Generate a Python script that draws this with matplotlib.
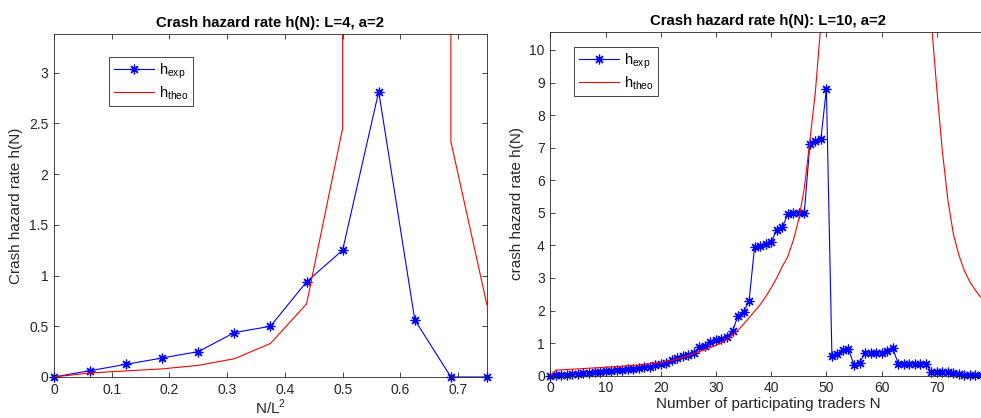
import numpy as np
import matplotlib
matplotlib.use("Agg")
import matplotlib.pyplot as plt

plt.rcParams['font.family'] = ['Liberation Sans', 'DejaVu Sans']
plt.rcParams['mathtext.fontset'] = 'custom'
plt.rcParams['mathtext.rm'] = 'Liberation Sans'

# ---- left panel: L=4, a=2 (x = N/L^2)
x_left = [0, 0.0625, 0.125, 0.1875, 0.25, 0.3125, 0.375, 0.4375, 0.5,
          0.5625, 0.625, 0.6875, 0.75]
h_exp_left = [0, 0.0625, 0.125, 0.1875, 0.25, 0.4375, 0.5, 0.9375, 1.25,
              2.8125, 0.5625, 0, 0]
h_theo_left = [0, 0.04, 0.06, 0.08, 0.115, 0.18, 0.33, 0.72, 2.45,
               1e6, 1e6, 2.32, 0.71]

# ---- right panel: L=10, a=2 (x = number of traders N)
n_right = list(range(0, 79))
h_exp_right = [0.0, 0.02, 0.01, 0.03, 0.04, 0.06, 0.07, 0.08, 0.10, 0.12,
               0.13, 0.14, 0.16, 0.19, 0.21, 0.22, 0.23, 0.26, 0.28, 0.32,
               0.36, 0.40, 0.48, 0.53, 0.60, 0.65, 0.70, 0.87, 0.91, 1.04,
               1.10, 1.13, 1.20, 1.38, 1.83, 1.95, 2.30, 3.96, 3.99, 4.03,
               4.10, 4.47, 4.55, 4.96, 4.99, 5.00, 5.00, 7.10, 7.20, 7.26,
               8.80, 0.62, 0.67, 0.79, 0.81, 0.33, 0.40, 0.69, 0.69, 0.69,
               0.69, 0.76, 0.86, 0.37, 0.37, 0.37, 0.37, 0.37, 0.37, 0.12,
               0.10, 0.10, 0.10, 0.09, 0.06, 0.03, 0.03, 0.03, 0.03]
h_theo_right = [0.0, 0.17, 0.18, 0.19, 0.20, 0.21, 0.22, 0.23, 0.24, 0.25,
                0.26, 0.27, 0.28, 0.29, 0.31, 0.32, 0.33, 0.35, 0.37, 0.39,
                0.41, 0.44, 0.47, 0.51, 0.56, 0.62, 0.68, 0.74, 0.80, 0.86,
                0.93, 1.01, 1.12, 1.25, 1.40, 1.58, 1.78, 1.98, 2.18, 2.42,
                2.70, 3.00, 3.35, 3.65, 4.15, 4.80, 5.75, 7.20, 8.70, 10.80,
                13.6, 17.5, 23.0, 32.0, 48.0, 80.0, 160.0, 400.0, 2000.0, 2000.0,
                400.0, 160.0, 80.0, 48.0, 32.0, 23.0, 18.0, 15.5, 13.5, 10.9,
                8.8, 6.9, 5.4, 4.35, 3.7, 3.22, 2.88, 2.62, 2.4]

axc = (0.15, 0.15, 0.15)
star = (8, 2, 0)

fig = plt.figure(figsize=(9.81, 4.18), dpi=100)


def style_axes(ax):
    for s in ax.spines.values():
        s.set_color(axc)
        s.set_linewidth(0.6)
    ax.tick_params(direction='in', top=True, right=True, length=3.5,
                   width=0.6, colors=axc, labelsize=10, pad=4)


ax1 = fig.add_axes([0.0550, 0.0981, 0.4414, 0.8206])
ax1.plot(x_left, h_exp_left, color='b', lw=0.8, marker=star, ms=7,
         mew=0.9, clip_on=False, label=r'h$_{\mathregular{exp}}$')
ax1.plot(x_left, h_theo_left, color='r', lw=0.8, label=r'h$_{\mathregular{theo}}$')
ax1.set_xlim(0, 0.75)
ax1.set_ylim(0, 3.38)
ax1.set_xticks(np.arange(0, 0.71, 0.1))
ax1.set_xticklabels(['0', '0.1', '0.2', '0.3', '0.4', '0.5', '0.6', '0.7'])
ax1.set_yticks(np.arange(0, 3.01, 0.5))
ax1.set_yticklabels(['0', '0.5', '1', '1.5', '2', '2.5', '3'])
style_axes(ax1)
ax1.set_title('Crash hazard rate h(N): L=4, a=2', fontsize=10.7,
              fontweight='bold', pad=5)
ax1.set_xlabel(r'N/L$^{\mathregular{2}}$', fontsize=11, color=axc, labelpad=1)
ax1.set_ylabel('Crash hazard rate h(N)', fontsize=11, color=axc, labelpad=4)
ax1.legend(loc='upper left', bbox_to_anchor=(0.1114, 0.8629),
           bbox_transform=fig.transFigure, fancybox=False, edgecolor=axc,
           framealpha=1, fontsize=10.5, handlelength=2.8, borderpad=0.3,
           labelspacing=0.2, handletextpad=0.3, borderaxespad=0)
ax1.get_legend().get_frame().set_linewidth(0.6)

ax2 = fig.add_axes([0.5610, 0.1012, 0.4446, 0.8230])
ax2.plot(n_right, h_exp_right, color='b', lw=0.8, marker=star, ms=7,
         mew=0.9, clip_on=False, label=r'h$_{\mathregular{exp}}$')
ax2.plot(n_right, h_theo_right, color='r', lw=0.8, label=r'h$_{\mathregular{theo}}$')
ax2.set_xlim(0, 79)
ax2.set_ylim(0, 10.56)
ax2.set_xticks(np.arange(0, 71, 10))
ax2.set_yticks(np.arange(0, 11, 1))
style_axes(ax2)
ax2.set_title('Crash hazard rate h(N): L=10, a=2', fontsize=10.7,
              fontweight='bold', pad=5)
ax2.set_xlabel('Number of participating traders N', fontsize=11, color=axc,
               labelpad=1)
ax2.set_ylabel('crash hazard rate h(N)', fontsize=11, color=axc, labelpad=4)
ax2.legend(loc='upper left', bbox_to_anchor=(0.5854, 0.8868),
           bbox_transform=fig.transFigure, fancybox=False, edgecolor=axc,
           framealpha=1, fontsize=10.5, handlelength=2.8, borderpad=0.3,
           labelspacing=0.2, handletextpad=0.3, borderaxespad=0)
ax2.get_legend().get_frame().set_linewidth(0.6)

fig.savefig('out.png', dpi=100)
